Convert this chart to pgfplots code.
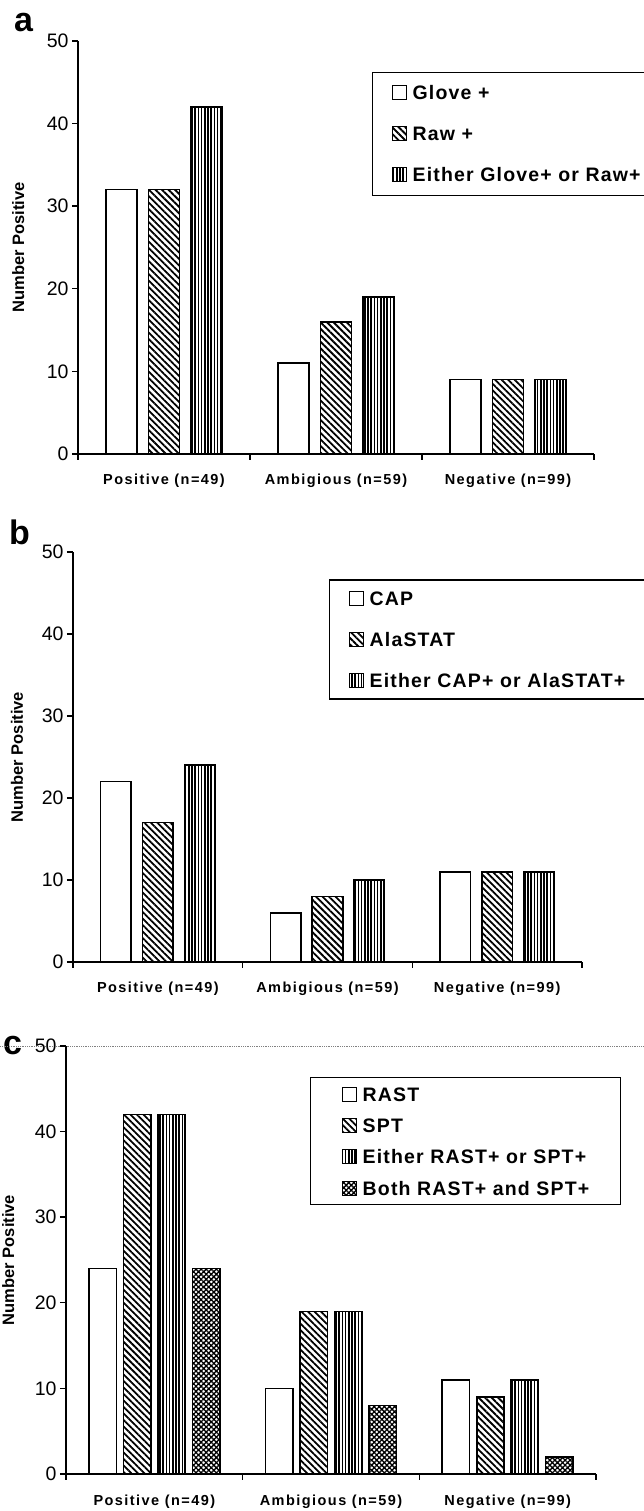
\documentclass[border=0pt]{standalone}
\usepackage{fontspec}
\setmainfont{Liberation Sans}
\newfontfamily\lsfont[LetterSpace=6]{Liberation Sans}
\newfontfamily\xlfont[LetterSpace=10]{Liberation Sans}
\usepackage{pgfplots}
\pgfplotsset{compat=1.18}
\usetikzlibrary{patterns.meta}
\newcommand\legfont{\lsfont\bfseries\fontsize{19.5}{22}\selectfont}
\newcommand\catfont{\xlfont\bfseries\fontsize{14.5}{16}\selectfont}
\newcommand\tickfont{\fontsize{19.5}{21}\selectfont}
\newcommand\ylabfont{\bfseries\fontsize{16.5}{18}\selectfont}
\newcommand\panfont{\bfseries\fontsize{34}{36}\selectfont}
\tikzset{
 barA/.style={draw=black, line width=1.5pt, fill=white},
 barB/.style={draw=black, line width=1.5pt, pattern={Lines[angle=-45,distance=4.6pt,line width=1.8pt]}, pattern color=black},
 barC/.style={draw=black, line width=1.5pt, pattern={Lines[angle=90,distance=3.2pt,line width=1.5pt]}, pattern color=black},
 barD/.style={draw=black, line width=1.5pt, pattern={Hatch[angle=45,distance=3.6pt,line width=1.3pt]}, pattern color=black},
}
\pgfplotsset{panel/.style={
 scale only axis, ybar, ymin=0, ymax=50, ytick={0,10,20,30,40,50},
 xmin=-0.5, xmax=2.5, xtick={-0.5,0.5,1.5,2.5}, xticklabels={},
 extra x ticks={0,1,2},
 extra x tick labels={{Positive (n=49)},{Ambigious (n=59)},{Negative (n=99)}},
 extra x tick style={major tick length=0pt, tick label style={anchor=base, yshift=-31pt, font=\catfont}},
 axis lines=left, axis line style={-, line width=1.5pt},
 tick align=outside, major tick length=6pt, tick style={line width=1.4pt, black},
 yticklabel style={font=\tickfont}, /pgf/number format/assume math mode=true,
 ylabel={Number Positive}, ylabel style={font=\ylabfont, anchor=center},
 legend cell align=left,
 legend image code/.code={\draw[##1, line width=1pt] (0pt,-7pt) rectangle (14pt,7pt);},
 legend style={draw=black, line width=1.3pt, font=\legfont, anchor=north west,
   column sep=6pt, inner xsep=19pt,
   nodes={inner sep=0pt, text height=14pt, text depth=0pt}},
}}
\begin{document}
\begin{tikzpicture}
\path[use as bounding box] (0pt,0pt) rectangle (644pt,1511pt);
\node[anchor=base west, inner sep=0pt, font=\panfont] at (14pt,1479pt) {a};
\node[anchor=base west, inner sep=0pt, font=\panfont] at (9pt,966pt) {b};
\node[anchor=base west, inner sep=0pt, font=\panfont] at (3pt,456pt) {c};
\draw[gray, densely dotted, line width=0.8pt] (0pt,465pt) -- (644pt,465pt);

% panel a
\begin{axis}[panel, at={(78pt,1057pt)}, anchor=south west, width=516pt, height=413pt,
 bar width=0.18,
 ylabel style={at={(axis description cs:-0.116,0.5)}},
 legend style={at={(0.5698,0.926)}, row sep=26pt, inner ysep=13pt}]
\addplot[barA, bar shift=-0.247] coordinates {(0,32) (1,11) (2,9)};
\addlegendentry{\makebox[250pt][l]{Glove +}}
\addplot[barB, bar shift=0] coordinates {(0,32) (1,16) (2,9)};
\addlegendentry{Raw +}
\addplot[barC, bar shift=0.247] coordinates {(0,42) (1,19) (2,9)};
\addlegendentry{Either Glove+ or Raw+}
\end{axis}

% panel b
\begin{axis}[panel, at={(73pt,549pt)}, anchor=south west, width=509pt, height=410pt,
 bar width=0.18,
 ylabel style={at={(axis description cs:-0.110,0.5)}},
 legend style={at={(0.503,0.933)}, row sep=26pt, inner ysep=11pt}]
\addplot[barA, bar shift=-0.247] coordinates {(0,22) (1,6) (2,11)};
\addlegendentry{\makebox[290pt][l]{CAP}}
\addplot[barB, bar shift=0] coordinates {(0,17) (1,8) (2,11)};
\addlegendentry{AlaSTAT}
\addplot[barC, bar shift=0.247] coordinates {(0,24) (1,10) (2,11)};
\addlegendentry{Either CAP+ or AlaSTAT+}
\end{axis}

% panel c
\begin{axis}[panel, at={(66pt,37pt)}, anchor=south west, width=530pt, height=428pt,
 bar width=0.155,
 ylabel style={at={(axis description cs:-0.109,0.5)}},
 legend style={at={(0.4604,0.9276)}, row sep=16.3pt, inner ysep=9pt, inner xsep=31pt}]
\addplot[barA, bar shift=-0.293] coordinates {(0,24) (1,10) (2,11)};
\addlegendentry{RAST}
\addplot[barB, bar shift=-0.097] coordinates {(0,42) (1,19) (2,9)};
\addlegendentry{SPT}
\addplot[barC, bar shift=0.097] coordinates {(0,42) (1,19) (2,11)};
\addlegendentry{Either RAST+ or SPT+}
\addplot[barD, bar shift=0.293] coordinates {(0,24) (1,8) (2,2)};
\addlegendentry{Both RAST+ and SPT+}
\end{axis}
\end{tikzpicture}
\end{document}
